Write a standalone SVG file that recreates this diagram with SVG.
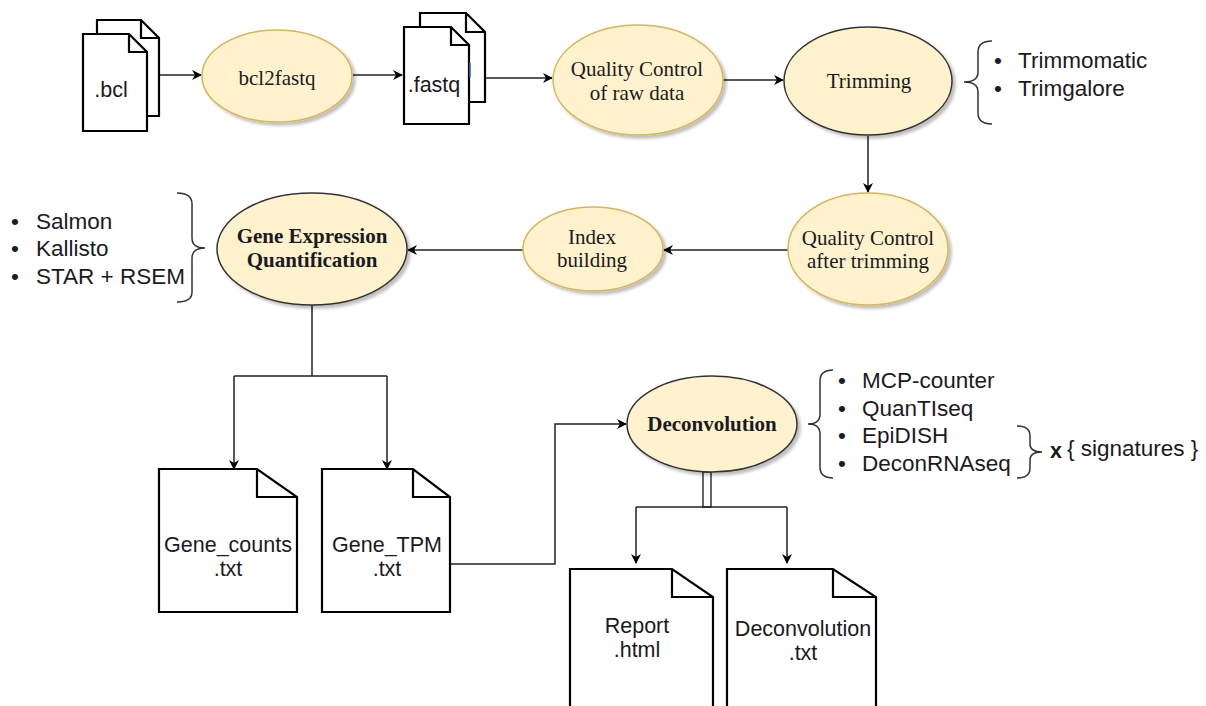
<svg xmlns="http://www.w3.org/2000/svg" width="1206" height="706" viewBox="0 0 1206 706">
<style>
.ell{fill:#fff2cc;stroke:#d6b656;stroke-width:1.5;filter:url(#sh)}
.ellk{fill:#fff2cc;stroke:#333;stroke-width:1.5;filter:url(#sh)}
.doc{fill:#fff;stroke:#000;stroke-width:2.2;stroke-linejoin:miter}
.ser{font-family:"Liberation Serif","Times New Roman",serif;font-size:21px;fill:#1a1a22;text-anchor:middle}
.serb{font-family:"Liberation Serif","Times New Roman",serif;font-size:21px;font-weight:bold;fill:#1a1a22;text-anchor:middle}
.san{font-family:"Liberation Sans",Arial,sans-serif;font-size:21.5px;fill:#1a1a22}
.lst{font-family:"Liberation Sans",Arial,sans-serif;font-size:22.5px;fill:#1a1a22}
.mid{text-anchor:middle}
.ln{fill:none;stroke:#222;stroke-width:1.5}
.br{fill:none;stroke:#333;stroke-width:1.5}
</style>
<defs>
<filter id="sh" x="-20%" y="-20%" width="150%" height="150%">
<feDropShadow dx="3" dy="3" stdDeviation="1.5" flood-color="#000" flood-opacity="0.25"/>
</filter>
<marker id="ar" viewBox="0 0 10 10" refX="9" refY="5" markerWidth="10" markerHeight="10" markerUnits="userSpaceOnUse" orient="auto">
<path d="M0,0 L10,5 L0,10 L3,5 z" fill="#000"/>
</marker>
</defs>
<rect width="1206" height="706" fill="#fff"/>

<g id="connectors">
<line class="ln" x1="159" y1="75" x2="201" y2="75" marker-end="url(#ar)"/>
<line class="ln" x1="353" y1="75" x2="402" y2="75" marker-end="url(#ar)"/>
<line class="ln" x1="485" y1="78" x2="552" y2="78" marker-end="url(#ar)"/>
<line class="ln" x1="723" y1="80" x2="783" y2="80" marker-end="url(#ar)"/>
<line class="ln" x1="868" y1="136" x2="868" y2="192" marker-end="url(#ar)"/>
<line class="ln" x1="788" y1="250" x2="664" y2="250" marker-end="url(#ar)"/>
<line class="ln" x1="523" y1="250" x2="408" y2="250" marker-end="url(#ar)"/>
<polyline class="ln" points="312,305 312,376"/>
<polyline class="ln" points="234,376 387,376"/>
<line class="ln" x1="234" y1="376" x2="234" y2="469" marker-end="url(#ar)"/>
<line class="ln" x1="387" y1="376" x2="387" y2="469" marker-end="url(#ar)"/>
<polyline class="ln" points="450,564 555,564 555,424 626,424" marker-end="url(#ar)"/>
<rect x="703" y="472" width="8" height="35" fill="#fff" stroke="#333" stroke-width="1.5"/>
<polyline class="ln" points="636,507 787,507"/>
<line class="ln" x1="636" y1="507" x2="636" y2="563" marker-end="url(#ar)"/>
<line class="ln" x1="787" y1="507" x2="787" y2="563" marker-end="url(#ar)"/>
</g>

<g id="bcl">
<path class="doc" d="M97,20 H141 L159,38 V116 H97 Z M141,20 V38 H159"/>
<path class="doc" d="M83,34 H129 L147,52 V131 H83 Z M129,34 V52 H147"/>
<text class="san mid" x="111" y="97" font-size="16.5">.bcl</text>
</g>

<g id="bcl2fastq">
<ellipse class="ell" cx="277" cy="76" rx="75" ry="46"/>
<text class="ser" x="277" y="85">bcl2fastq</text>
</g>

<g id="fastq">
<path class="doc" d="M420,13 H466 L485,32 V102 H420 Z M466,13 V32 H485"/>
<path class="doc" d="M404,27 H451 L469,45 V124 H404 Z M451,27 V45 H469"/>
<line x1="470" y1="63" x2="470" y2="77" stroke="#2a6fd6" stroke-width="1.5"/>
<text class="san mid" x="434" y="92" font-size="17">.fastq</text>
</g>

<g id="qc_raw">
<ellipse class="ell" cx="638" cy="80" rx="85" ry="55"/>
<text class="ser" x="637" y="76">Quality Control</text>
<text class="ser" x="637" y="100">of raw data</text>
</g>

<g id="trimming">
<ellipse class="ellk" cx="868" cy="81" rx="84" ry="54"/>
<text class="ser" x="869" y="88">Trimming</text>
</g>

<g id="trim_tools">
<path class="br" d="M992,41 Q978,41 978,52 L978,72 Q978,82 964,82 Q978,82 978,92 L978,113 Q978,124 992,124"/>
<text class="lst" x="994" y="68">•</text>
<text class="lst" x="1018" y="68">Trimmomatic</text>
<text class="lst" x="994" y="96">•</text>
<text class="lst" x="1018" y="96">Trimgalore</text>
</g>

<g id="qc_after">
<ellipse class="ell" cx="868" cy="249" rx="80" ry="56"/>
<text class="ser" x="868" y="245">Quality Control</text>
<text class="ser" x="868" y="268">after trimming</text>
</g>

<g id="index">
<ellipse class="ell" cx="593" cy="249" rx="70" ry="42"/>
<text class="ser" x="592" y="244">Index</text>
<text class="ser" x="592" y="267">building</text>
</g>

<g id="gene_expr">
<ellipse class="ellk" cx="312" cy="249" rx="95" ry="56"/>
<text class="serb" x="312" y="243">Gene Expression</text>
<text class="serb" x="312" y="267">Quantification</text>
</g>

<g id="quant_tools">
<path class="br" d="M177,193 Q192,193 192,204 L192,238 Q192,248 205,248 Q192,248 192,258 L192,292 Q192,302 177,302"/>
<text class="lst" x="11" y="229">•</text>
<text class="lst" x="36" y="229">Salmon</text>
<text class="lst" x="11" y="256">•</text>
<text class="lst" x="36" y="256">Kallisto</text>
<text class="lst" x="11" y="284">•</text>
<text class="lst" x="36" y="284">STAR + RSEM</text>
</g>

<g id="gene_counts">
<path class="doc" d="M159,469 H257 L297,497 V612 H159 Z M257,469 V497 H297"/>
<text class="san mid" x="228" y="552">Gene_counts</text>
<text class="san mid" x="228" y="576">.txt</text>
</g>

<g id="gene_tpm">
<path class="doc" d="M322,469 H413 L450,497 V612 H322 Z M413,469 V497 H450"/>
<text class="san mid" x="387" y="552">Gene_TPM</text>
<text class="san mid" x="387" y="576">.txt</text>
</g>

<g id="deconvolution">
<ellipse class="ellk" cx="712" cy="424" rx="85" ry="48"/>
<text class="serb" x="712" y="431">Deconvolution</text>
</g>

<g id="deconv_tools">
<path class="br" d="M833,370 Q820,370 820,381 L820,414 Q820,424 808,424 Q820,424 820,434 L820,467 Q820,478 833,478"/>
<text class="lst" x="838" y="388">•</text>
<text class="lst" x="862" y="388">MCP-counter</text>
<text class="lst" x="838" y="416">•</text>
<text class="lst" x="862" y="416">QuanTIseq</text>
<text class="lst" x="838" y="443">•</text>
<text class="lst" x="862" y="443">EpiDISH</text>
<text class="lst" x="838" y="471">•</text>
<text class="lst" x="862" y="471">DeconRNAseq</text>
<path class="br" d="M1017,426 Q1030,426 1030,436 L1030,444 Q1030,452 1042,452 Q1030,452 1030,460 L1030,468 Q1030,478 1017,478"/>
<text class="san" x="1050" y="458" font-weight="bold" font-size="16">x</text>
<text class="lst" x="1067" y="456">{ signatures }</text>
</g>

<g id="report">
<path class="doc" d="M570,569 H672 L713,597 V720 H570 Z M672,569 V597 H713"/>
<text class="san mid" x="637" y="633">Report</text>
<text class="san mid" x="637" y="657">.html</text>
</g>

<g id="deconv_txt">
<path class="doc" d="M727,569 H833 L876,597 V720 H727 Z M833,569 V597 H876"/>
<text class="san mid" x="803" y="636">Deconvolution</text>
<text class="san mid" x="803" y="660">.txt</text>
</g>
</svg>
